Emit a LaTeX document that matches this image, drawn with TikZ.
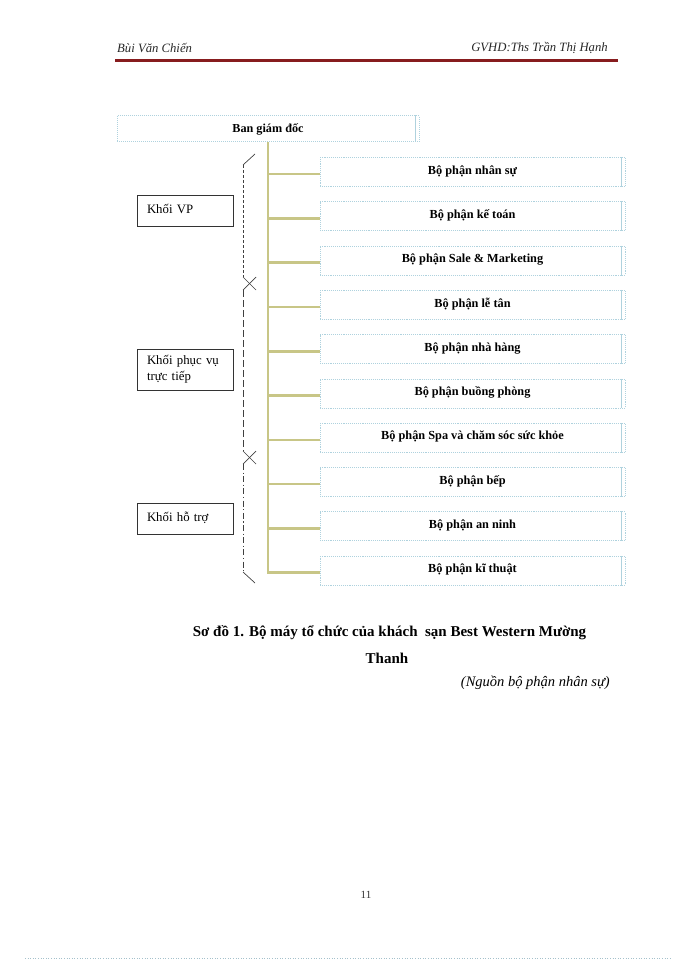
\documentclass[tikz,border=0pt]{standalone}
\usepackage{fontspec}
\setmainfont{Liberation Serif}
\definecolor{boxedge}{RGB}{175,210,222}
\definecolor{trunkcol}{RGB}{200,198,135}
\definecolor{rulered}{RGB}{135,28,30}
\definecolor{hdrgray}{RGB}{40,40,40}
\begin{document}
\begin{tikzpicture}[x=1pt,y=-1pt,
  topbox/.style={draw=boxedge, densely dotted, line width=1pt, fill=white,
    minimum width=302pt, minimum height=26pt, inner sep=0pt,
    font=\fontsize{12.2}{14}\selectfont\bfseries},
  rbox/.style={draw=boxedge, densely dotted, line width=0.9pt, fill=white,
    minimum width=305pt, minimum height=29pt, inner sep=0pt,
    font=\fontsize{12.3}{14}\selectfont\bfseries},
  lbox/.style={draw=black!80, line width=0.7pt, fill=white,
    minimum width=96pt, text width=76pt, align=left, inner xsep=10pt,
    font=\fontsize{12.8}{15}\selectfont},
  trunk/.style={draw=trunkcol, line width=2.6pt},
  bracketline/.style={draw=black!75, line width=0.7pt},
  edge3d/.style={draw=boxedge, line width=0.8pt}
]
\useasboundingbox (0,0) rectangle (700,960);

% header
\node[anchor=west, font=\fontsize{12.7}{14}\selectfont\itshape, text=hdrgray, inner sep=0pt] (hl) at (117,48) {Bùi Văn Chiến};
\node[anchor=east, font=\fontsize{12.7}{14}\selectfont\itshape, text=hdrgray, inner sep=0pt] (hr) at (608,48) {GVHD:Ths Trần Thị Hạnh};
\draw[rulered, line width=3.2pt] (115,60.5) -- (618,60.5);

% top box
\node[topbox] (bgd) at (268,129) {\raisebox{1.5pt}{Ban giám đốc}};
\draw[edge3d] ([xshift=-4pt]bgd.north east) -- ([xshift=-4pt]bgd.south east);

% right boxes
\foreach \i/\t in {1/Bộ phận nhân sự, 2/Bộ phận kế toán, 3/Bộ phận Sale \& Marketing,
  4/Bộ phận lễ tân, 5/Bộ phận nhà hàng, 6/Bộ phận buồng phòng,
  7/Bộ phận Spa và chăm sóc sức khỏe, 8/Bộ phận bếp, 9/Bộ phận an ninh, 10/Bộ phận kĩ thuật}{
  \node[rbox] (b\i) at (472.5,{172+44.3*(\i-1)}) {\raisebox{4.5pt}{\t}};
  \draw[edge3d] ([xshift=-4pt]b\i.north east) -- ([xshift=-4pt]b\i.south east);
  \coordinate (j\i) at ([yshift=-2pt]b\i.west);
}

% trunk and branches
\draw[trunk] (bgd.south) |- (j10);
\foreach \i in {1,...,9}{
  \draw[trunk] (bgd.south |- j\i) -- (j\i);
}

% left boxes
\node[lbox, minimum height=31pt] (vp) at (185,210.5) {\raisebox{3pt}{Khối VP}};
\node[lbox, minimum height=41pt, font=\fontsize{12.8}{16}\selectfont] (pv) at (185,369.5) {Khối phục vụ\\trực tiếp};
\node[lbox, minimum height=31pt] (ht) at (185,518.5) {\raisebox{3pt}{Khối hỗ trợ}};

% brackets
\draw[bracketline] (255,154) -- (243,165);
\draw[bracketline, dash pattern=on 3pt off 2pt] (243,165) -- (243,277);
\draw[bracketline] (243,277) -- (256,290);
\draw[bracketline] (256,277) -- (243,290);
\draw[bracketline, dash pattern=on 7pt off 3pt] (243,290) -- (243,451);
\draw[bracketline] (243,451) -- (256,464);
\draw[bracketline] (256,451) -- (243,464);
\draw[bracketline, dash pattern=on 6pt off 2.5pt on 1.2pt off 2.5pt] (243,464) -- (243,572);
\draw[bracketline] (243,572) -- (255,583);

% caption
\node[font=\fontsize{15}{17}\selectfont\bfseries, inner sep=0pt] (cap1) at (389.5,633) {Sơ đồ 1. Bộ máy tổ chức của khách\ \ sạn Best Western Mường};
\node[font=\fontsize{15}{17}\selectfont\bfseries, inner sep=0pt] (cap2) at (387,658) {Thanh};
\node[anchor=east, font=\fontsize{14.5}{16}\selectfont\itshape, inner sep=0pt] (src) at (610,683) {(Nguồn bộ phận nhân sự)};

% page number
\node[font=\fontsize{11}{12}\selectfont, text=black!80, inner sep=0pt] (pg) at (366,895) {11};

% bottom dotted line
\draw[draw=boxedge!80!gray, dotted, line width=0.6pt] (25,958.5) -- (672,958.5);
\end{tikzpicture}
\end{document}
